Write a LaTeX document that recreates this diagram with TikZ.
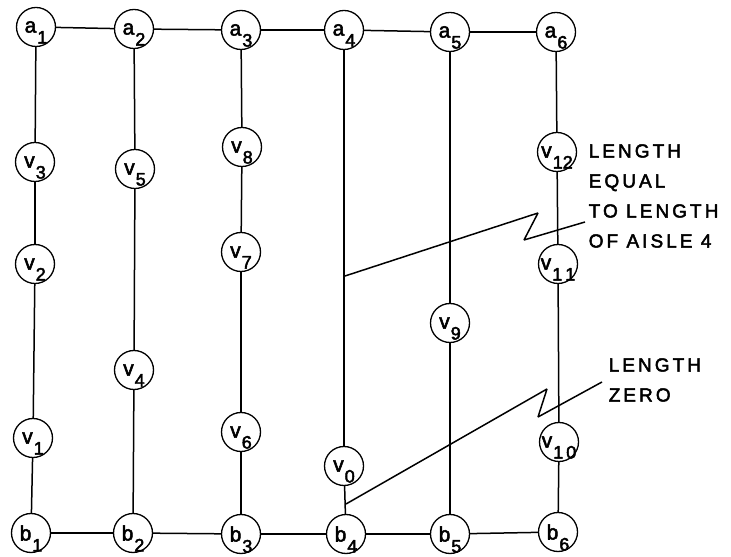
\documentclass[tikz,border=0pt]{standalone}
\usepackage{fontspec}
\setmainfont[FakeBold=2.5]{Liberation Sans}
\newfontfamily\notefont[LetterSpace=16,FakeBold=2.5]{Liberation Sans}
\usepackage{tikz}

% vertex label: letter with a low, full-size index
\newcommand{\lab}[2]{#1\kern1bp\smash{\raisebox{-11bp}{\fontsize{18bp}{18bp}\selectfont #2}}}

\begin{document}
\begin{tikzpicture}[line join=bevel,
  vertex/.style={circle,draw,line width=1.3bp,minimum size=39bp,inner sep=0pt,
    fill=white,font=\fontsize{21bp}{21bp}\selectfont},
  note/.style={align=left,inner sep=0pt,anchor=west,
    font=\notefont\fontsize{19bp}{30bp}\selectfont},
  every path/.style={line width=1.5bp}]
\useasboundingbox (0bp,0bp) rectangle (731bp,557bp);
%%
\node (a_1) at (36bp,530bp) [vertex] {\lab{a}{1}};
  \node (a_2) at (134bp,528bp) [vertex] {\lab{a}{2}};
  \node (a_3) at (241bp,527bp) [vertex] {\lab{a}{3}};
  \node (a_4) at (344bp,527bp) [vertex] {\lab{a}{4}};
  \node (a_5) at (450bp,525bp) [vertex] {\lab{a}{5}};
  \node (a_6) at (556bp,525bp) [vertex] {\lab{a}{6}};
  \node (v_3) at (35bp,395bp) [vertex] {\lab{v}{3}};
  \node (v_2) at (35bp,293bp) [vertex] {\lab{v}{2}};
  \node (v_1) at (33bp,119bp) [vertex] {\lab{v}{1}};
  \node (v_5) at (135bp,388bp) [vertex] {\lab{v}{5}};
  \node (v_4) at (134bp,187bp) [vertex] {\lab{v}{4}};
  \node (v_8) at (242bp,410bp) [vertex] {\lab{v}{8}};
  \node (v_7) at (241bp,305bp) [vertex] {\lab{v}{7}};
  \node (v_6) at (241bp,125bp) [vertex] {\lab{v}{6}};
  \node (v_0) at (344bp,91bp) [vertex] {\lab{v}{0}};
  \node (v_9) at (450bp,234bp) [vertex] {\lab{v}{9}};
  \node (v_12) at (557bp,405bp) [vertex] {\lab{v}{12}};
  \node (v_11) at (558bp,293bp) [vertex] {\lab{v}{1\,1}};
  \node (v_10) at (559bp,115bp) [vertex] {\lab{v}{1\,0}};
  \node (b_1) at (31bp,24bp) [vertex] {\lab{b}{1}};
  \node (b_2) at (133bp,24bp) [vertex] {\lab{b}{2}};
  \node (b_3) at (241bp,23bp) [vertex] {\lab{b}{3}};
  \node (b_4) at (346bp,23bp) [vertex] {\lab{b}{4}};
  \node (b_5) at (450bp,23bp) [vertex] {\lab{b}{5}};
  \node (b_6) at (558bp,25bp) [vertex] {\lab{b}{6}};
%
  \draw [black] (a_1) -- (a_2);
  \draw [black] (a_2) -- (a_3);
  \draw [black] (a_3) -- (a_4);
  \draw [black] (a_4) -- (a_5);
  \draw [black] (a_5) -- (a_6);
  \draw [black] (b_1) -- (b_2);
  \draw [black] (b_2) -- (b_3);
  \draw [black] (b_3) -- (b_4);
  \draw [black] (b_4) -- (b_5);
  \draw [black] (b_5) -- (b_6);
  \draw [black] (a_1) -- (v_3);
  \draw [black] (v_3) -- (v_2);
  \draw [black] (v_2) -- (v_1);
  \draw [black] (v_1) -- (b_1);
  \draw [black] (a_2) -- (v_5);
  \draw [black] (v_5) -- (v_4);
  \draw [black] (v_4) -- (b_2);
  \draw [black] (a_3) -- (v_8);
  \draw [black] (v_8) -- (v_7);
  \draw [black] (v_7) -- (v_6);
  \draw [black] (v_6) -- (b_3);
  \draw [black] (a_4) -- (v_0);
  \draw [black] (v_0) -- (b_4);
  \draw [black] (a_5) -- (v_9);
  \draw [black] (v_9) -- (b_5);
  \draw [black] (a_6) -- (v_12);
  \draw [black] (v_12) -- (v_11);
  \draw [black] (v_11) -- (v_10);
  \draw [black] (v_10) -- (b_6);
%
% broken leaders to the two notes
\coordinate (z_1) at (345bp,281bp);
  \coordinate (z_2) at (538bp,344bp);
  \coordinate (z_3) at (524bp,317bp);
  \coordinate (z_4) at (585bp,335bp);
  \coordinate (z_5) at (346bp,53bp);
  \coordinate (z_6) at (547bp,168bp);
  \coordinate (z_7) at (538bp,140bp);
  \coordinate (z_8) at (602bp,175bp);
  \draw [black] (z_1) -- (z_2) -- (z_3) -- (z_4);
  \draw [black] (z_5) -- (z_6) -- (z_7) -- (z_8);
  \node (note_0) at (588bp,361bp) [note] {LENGTH\\EQUAL\\TO LENGTH\\OF AISLE 4};
  \node (note_1) at (608bp,177bp) [note] {LENGTH\\ZERO};
%
\end{tikzpicture}
\end{document}
